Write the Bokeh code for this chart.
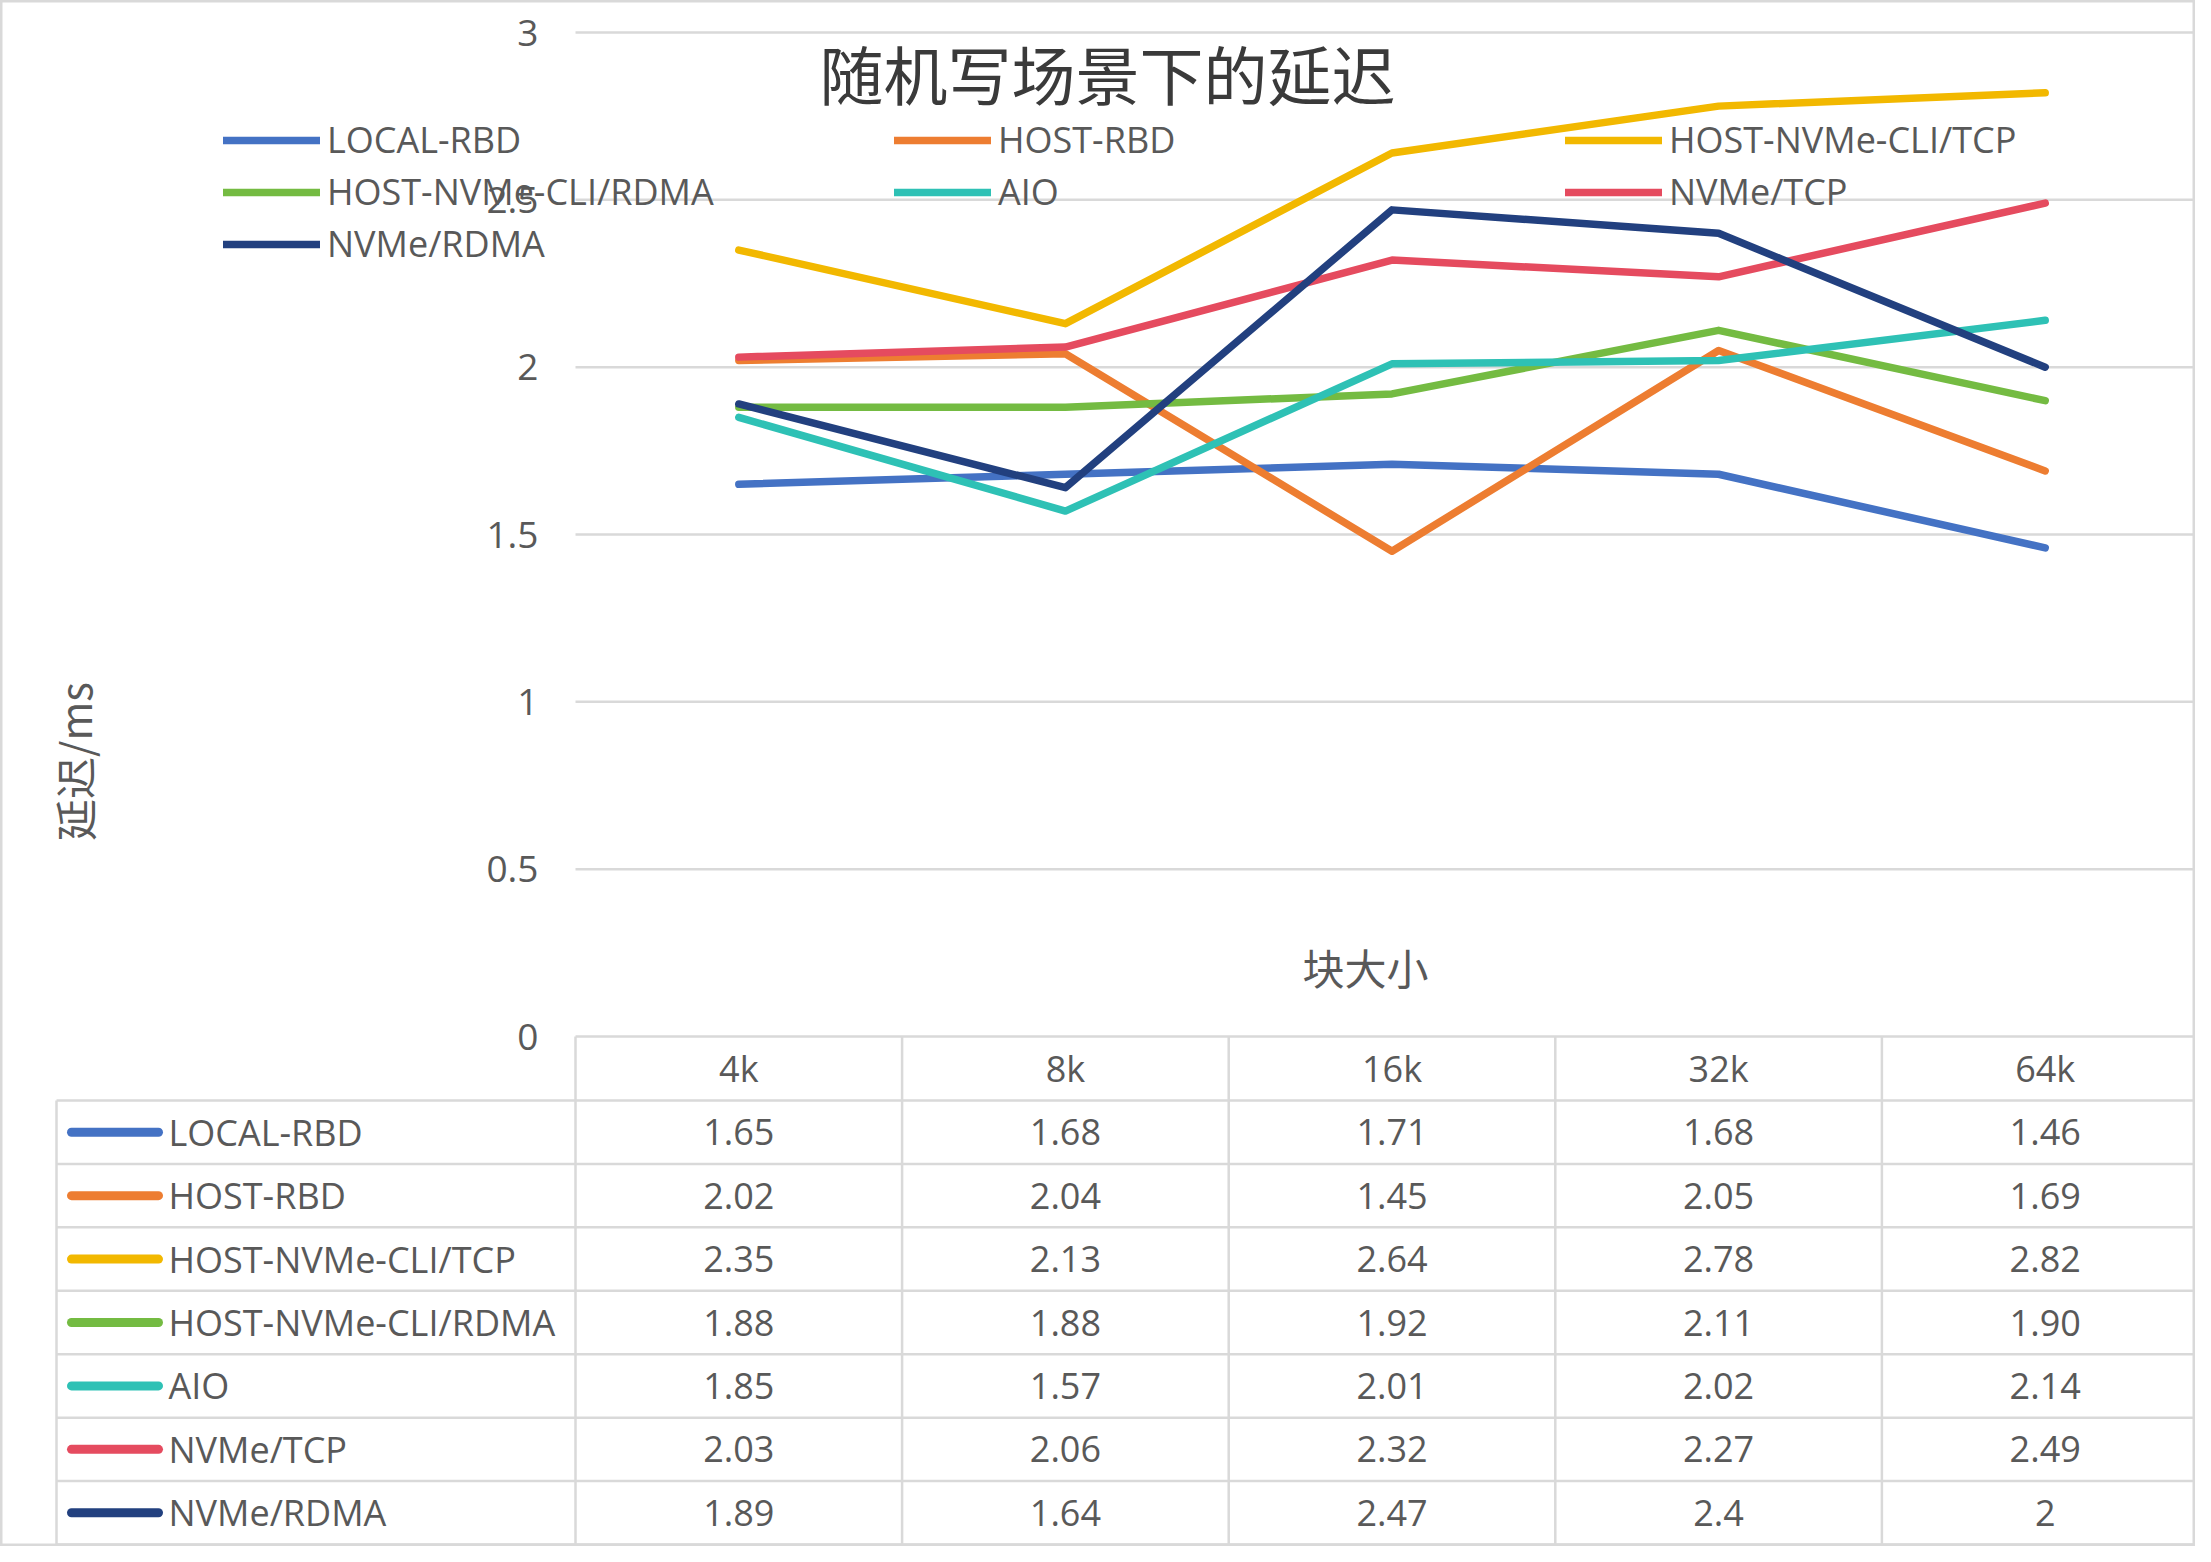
import numpy as np
from bokeh.plotting import figure
from bokeh.models import Range1d, Legend, LegendItem, Label
from bokeh.core.properties import value
from bokeh.embed import file_html
from bokeh.resources import INLINE

# ---------------- data ----------------
categories = ["4k", "8k", "16k", "32k", "64k"]
series_names = ["LOCAL-RBD", "HOST-RBD", "HOST-NVMe-CLI/TCP", "HOST-NVMe-CLI/RDMA",
                "AIO", "NVMe/TCP", "NVMe/RDMA"]
local_rbd = [1.65, 1.68, 1.71, 1.68, 1.46]
host_rbd = [2.02, 2.04, 1.45, 2.05, 1.69]
host_nvme_cli_tcp = [2.35, 2.13, 2.64, 2.78, 2.82]
host_nvme_cli_rdma = [1.88, 1.88, 1.92, 2.11, 1.90]
aio = [1.85, 1.57, 2.01, 2.02, 2.14]
nvme_tcp = [2.03, 2.06, 2.32, 2.27, 2.49]
nvme_rdma = [1.89, 1.64, 2.47, 2.4, 2]
number_formats = ["0.00", "0.00", "0.00", "0.00", "0.00", "0.00", "General"]
y_ticks = [0, 0.5, 1, 1.5, 2, 2.5, 3]
y_tick_labels = ["0", "0.5", "1", "1.5", "2", "2.5", "3"]
title_text = "随机写场景下的延迟"
y_title = "延迟/ms"
x_title = "块大小"

series_values = [local_rbd, host_rbd, host_nvme_cli_tcp, host_nvme_cli_rdma,
                 aio, nvme_tcp, nvme_rdma]
colors = ["#4472C4", "#ED7D31", "#F2B800", "#74BB42", "#2EC1B5", "#E54B5F", "#22407F"]

# ---------------- geometry (reference pixels) ----------------
W, H = 2195, 1546
PLOT_LEFT, PLOT_RIGHT = 575, 2208
Y0_PX, Y3_PX = 1036, 32
UX = (PLOT_RIGHT - PLOT_LEFT) / len(categories)
PY = (Y0_PX - Y3_PX) / 3.0


def dx(px):
    return (px - PLOT_LEFT) / UX


def dy(py):
    return (Y0_PX - py) / PY


TEXT = "#595959"
GRID = "#D9D9D9"
LATIN = value("Open Sans")
FS = "36px"

p = figure(width=W, height=H, output_backend="svg", toolbar_location=None,
           x_range=Range1d(dx(0), dx(W)), y_range=Range1d(dy(H), dy(0)),
           x_axis_location=None, y_axis_location=None, min_border=0,
           background_fill_color="white", border_fill_color="white",
           outline_line_color=GRID, outline_line_width=4)
p.grid.visible = False

ncat = len(categories)
xc = np.arange(ncat) + 0.5

# gridlines (y=0 is also the table's top border)
p.segment(x0=[0] * len(y_ticks), x1=[ncat] * len(y_ticks), y0=y_ticks, y1=y_ticks,
          line_color=GRID, line_width=2.5)

# y tick labels
p.text(x=[dx(538)] * len(y_ticks), y=y_ticks, text=y_tick_labels, text_font=LATIN,
       text_font_size="37px", text_color=TEXT, text_align="right", text_baseline="middle")

# series lines
renderers = []
for name, vals, col in zip(series_names, series_values, colors):
    r = p.line(x=xc, y=vals, line_color=col, line_width=7.5, line_cap="round",
               line_join="round")
    renderers.append(r)

# ---------------- data table ----------------
HEADER_BOTTOM = 1100
nrows = len(series_names)
ROW_H = (H - 2 - HEADER_BOTTOM) / nrows
row_lines_px = [HEADER_BOTTOM + i * ROW_H for i in range(nrows + 1)]
p.segment(x0=[dx(56)] * len(row_lines_px), x1=[ncat] * len(row_lines_px),
          y0=[dy(v) for v in row_lines_px], y1=[dy(v) for v in row_lines_px],
          line_color=GRID, line_width=2.5)
bottom = dy(row_lines_px[-1])
p.segment(x0=[dx(56)], x1=[dx(56)], y0=[dy(HEADER_BOTTOM)], y1=[bottom],
          line_color=GRID, line_width=2.5)
p.segment(x0=list(range(ncat + 1)), x1=list(range(ncat + 1)), y0=[0] * (ncat + 1),
          y1=[bottom] * (ncat + 1), line_color=GRID, line_width=2.5)

# header
p.text(x=xc, y=[dy(1068)] * ncat, text=categories, text_font=LATIN, text_font_size=FS,
       text_color=TEXT, text_align="center", text_baseline="middle")

row_centers = [dy(HEADER_BOTTOM + (i + 0.5) * ROW_H) for i in range(nrows)]
# row keys and names
p.segment(x0=[dx(71)] * nrows, x1=[dx(158)] * nrows, y0=row_centers, y1=row_centers,
          line_color=colors, line_width=9, line_cap="round")
p.text(x=[dx(168)] * nrows, y=row_centers, text=series_names, text_font=LATIN,
       text_font_size=FS, text_color=TEXT, text_align="left", text_baseline="middle")


def fmt(v, f):
    return f"{v:.2f}" if f == "0.00" else f"{v:g}"


cell_x, cell_y, cell_t = [], [], []
for i, (vals, f) in enumerate(zip(series_values, number_formats)):
    for j, v in enumerate(vals):
        cell_x.append(xc[j])
        cell_y.append(row_centers[i])
        cell_t.append(fmt(v, f))
p.text(x=cell_x, y=cell_y, text=cell_t, text_font=LATIN, text_font_size=FS,
       text_color=TEXT, text_align="center", text_baseline="middle")

# ---------------- titles ----------------
p.add_layout(Label(x=dx(1107), y=dy(71), text=title_text, text_font="Noto Sans CJK SC",
                   text_font_size="64px", text_color="#3A3A3A", text_align="center",
                   text_baseline="middle"))
p.add_layout(Label(x=dx(73), y=dy(761), text=y_title, text_font="Noto Sans CJK SC",
                   text_font_size="42px", text_color=TEXT, text_align="center",
                   text_baseline="middle", angle=np.pi / 2))
p.add_layout(Label(x=dx(1365), y=dy(966), text=x_title, text_font="Noto Sans CJK SC",
                   text_font_size="42px", text_color=TEXT, text_align="center",
                   text_baseline="middle"))

# ---------------- legend ----------------
items = [LegendItem(label=value(n), renderers=[r]) for n, r in zip(series_names, renderers)]
ITEM_H, SP = 48, 3
legend_top = 142 - ITEM_H / 2
legend_h = 3 * ITEM_H + 2 * SP
legend = Legend(items=items, orientation="horizontal", ncols=3,
                location=(223, H - legend_top - legend_h),
                glyph_width=97, glyph_height=ITEM_H, label_height=ITEM_H,
                label_width=671 - 97 - 7 - SP,
                label_standoff=7, spacing=SP, padding=0, margin=0,
                border_line_color=None, background_fill_alpha=0,
                label_text_font="Open Sans", label_text_font_size=FS,
                label_text_color=TEXT)
p.add_layout(legend)

open("out.html", "w").write(file_html(p, INLINE))
